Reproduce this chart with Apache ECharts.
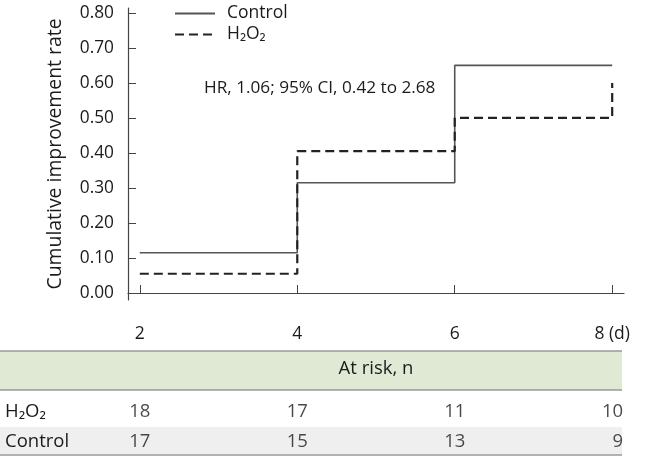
<!DOCTYPE html>
<html><head><meta charset="utf-8">
<script src="https://cdn.jsdelivr.net/npm/echarts@6/dist/echarts.min.js"></script>
<style>html,body{margin:0;padding:0;background:#fff}#c{width:645px;height:465px}</style>
</head><body><div id="c"></div>
<script>
// ---- data ----
const days = [2, 4, 6, 8];
const xTickLabels = ['2', '4', '6', '8 (d)'];
const yTicks = [0, 0.1, 0.2, 0.3, 0.4, 0.5, 0.6, 0.7, 0.8];
const controlRate = [0.115, 0.315, 0.65, 0.65];
const h2o2Rate = [0.055, 0.405, 0.5, 0.6];
const groups = ['Control', 'H₂O₂'];
const atRiskH2O2 = [18, 17, 11, 10];
const atRiskControl = [17, 15, 13, 9];
const annotation = 'HR, 1.06; 95% CI, 0.42 to 2.68';

const FONT = 'Open Sans';
const TXT = '#1e1a1b';

// main x scale: 1.85..8.15 over grid 128..624
const mainLeft = 128, mainRight = 624, xMin = 1.85, xMax = 8.15;
const pxPerUnit = (mainRight - mainLeft) / (xMax - xMin);
const tMin = 2 - (mainLeft + (2 - xMin) * pxPerUnit) / pxPerUnit;
const tableWidth = 622;
const tMax = tMin + tableWidth / pxPerUnit;

const chart = echarts.init(document.getElementById('c'), null, {renderer: 'canvas'});

const tableData = [];
days.forEach((d, i) => {
  const last = i === days.length - 1;
  const lab = last ? {align: 'right', offset: [11, 0]} : {};
  tableData.push({value: [d, 'H₂O₂', atRiskH2O2[i]], label: lab});
  tableData.push({value: [d, 'Control', atRiskControl[i]], label: lab});
});

chart.setOption({
  animation: false,
  textStyle: {fontFamily: FONT, color: TXT},
  grid: [
    {left: mainLeft, width: mainRight - mainLeft, top: 8, height: 292},
    {left: 0, width: tableWidth, top: 397, height: 60}
  ],
  legend: {
    left: 169, top: -2, orient: 'vertical', itemWidth: 40, itemHeight: 14, itemGap: 0,
    itemStyle: {opacity: 0},
    textStyle: {fontFamily: FONT, fontSize: 17.5, color: TXT, lineHeight: 21, padding: [0, 0, 0, 7]},
    data: ['Control', 'H₂O₂']
  },
  xAxis: [
    {
      gridIndex: 0, type: 'value', min: xMin, max: xMax,
      splitLine: {show: false},
      axisLine: {show: true, lineStyle: {color: '#444', width: 1.2}},
      axisTick: {show: true, inside: true, length: 8, customValues: days, lineStyle: {color: '#444'}},
      axisLabel: {customValues: days, margin: 25, fontSize: 17.5, color: TXT, fontFamily: FONT,
        formatter: v => xTickLabels[days.indexOf(v)]}
    },
    {
      gridIndex: 1, type: 'value', min: tMin, max: tMax, show: false
    }
  ],
  yAxis: [
    {
      gridIndex: 0, type: 'value', min: -0.02, max: 0.814,
      name: 'Cumulative improvement rate', nameLocation: 'middle', nameGap: 63,
      nameTextStyle: {fontSize: 19.4, color: TXT, fontFamily: FONT},
      splitLine: {show: false},
      axisLine: {show: true, lineStyle: {color: '#444', width: 1.2}},
      axisTick: {show: true, inside: true, length: 8, customValues: yTicks, lineStyle: {color: '#444'}},
      axisLabel: {customValues: yTicks, margin: 14, fontSize: 17.3, color: TXT, fontFamily: FONT,
        formatter: v => v.toFixed(2)}
    },
    {
      gridIndex: 1, type: 'category', data: groups,
      axisLine: {show: false}, axisTick: {show: false}, splitLine: {show: false},
      axisLabel: {inside: true, align: 'left', margin: 5, fontSize: 18.5, color: TXT, fontFamily: FONT}
    }
  ],
  graphic: [
    {type: 'rect', z: -10, shape: {x: 0, y: 351, width: 622, height: 39}, style: {fill: '#dfe9d3'}},
    {type: 'rect', z: -10, shape: {x: 0, y: 427, width: 622, height: 28}, style: {fill: '#efefef'}},
    {type: 'line', z: -5, shape: {x1: 0, y1: 351, x2: 622, y2: 351}, style: {stroke: '#9a9a9a', lineWidth: 1.5}},
    {type: 'line', z: -5, shape: {x1: 0, y1: 390, x2: 622, y2: 390}, style: {stroke: '#9a9a9a', lineWidth: 1.5}},
    {type: 'line', z: -5, shape: {x1: 0, y1: 455, x2: 622, y2: 455}, style: {stroke: '#9a9a9a', lineWidth: 1.5}},
    {type: 'text', x: 376, y: 369, style: {text: 'At risk, n', fill: TXT, font: '18.5px "Open Sans"', textAlign: 'center', textVerticalAlign: 'middle'}},
    {type: 'text', x: 204, y: 88, style: {text: annotation, fill: TXT, font: '17.2px "Open Sans"', textAlign: 'left', textVerticalAlign: 'middle'}}
  ],
  series: [
    {
      name: 'Control', type: 'line', step: 'end', xAxisIndex: 0, yAxisIndex: 0,
      symbol: 'none', lineStyle: {color: '#555', width: 1.6},
      itemStyle: {color: '#555'},
      data: days.map((d, i) => [d, controlRate[i]])
    },
    {
      name: 'H₂O₂', type: 'line', step: 'end', xAxisIndex: 0, yAxisIndex: 0,
      symbol: 'none', lineStyle: {color: '#222', width: 2.2, type: [9, 5]},
      itemStyle: {color: '#222'},
      data: days.map((d, i) => [d, h2o2Rate[i]])
    },
    {
      type: 'scatter', xAxisIndex: 1, yAxisIndex: 1, symbolSize: 0, silent: true,
      label: {show: true, position: 'inside', fontSize: 18.5, color: TXT, fontFamily: FONT,
        formatter: p => String(p.value[2])},
      data: tableData
    }
  ]
});
</script></body></html>
